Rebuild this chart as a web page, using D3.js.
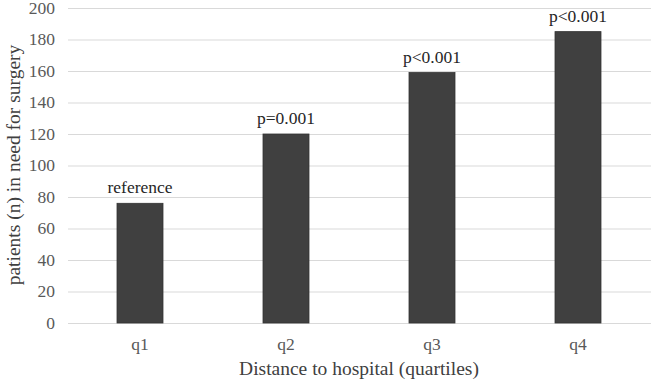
<!DOCTYPE html>
<html><head><meta charset="utf-8">
<script src="https://cdn.jsdelivr.net/npm/d3@7"></script>
<style>body{margin:0;background:#fff} svg text{font-family:"Times New Roman","Liberation Serif",Tinos,"DejaVu Serif",serif;}</style>
</head><body>
<script>
const categories = ["q1", "q2", "q3", "q4"];
const values = [76, 120, 159, 185];
const annotations = ["reference", "p=0.001", "p<0.001", "p<0.001"];
const yTicks = [0, 20, 40, 60, 80, 100, 120, 140, 160, 180, 200];
const xTitle = "Distance to hospital (quartiles)";
const yTitle = "patients (n) in need for surgery";

const W = 654, H = 383;
const svg = d3.select("body").append("svg").attr("width", W).attr("height", H);

const x = d3.scaleBand().domain(categories).range([67, 651]).paddingInner(0.685).paddingOuter(0.3425);
const y = d3.scaleLinear().domain([0, 200]).range([323, 8]);

// gridlines
svg.append("g").selectAll("line").data(yTicks).join("line")
  .attr("x1", 68).attr("x2", 651)
  .attr("y1", d => y(d) + 0.5).attr("y2", d => y(d) + 0.5)
  .attr("stroke", "#d9d9d9").attr("stroke-width", 1);

// y tick labels
svg.append("g").selectAll("text").data(yTicks).join("text")
  .attr("x", 55).attr("y", d => y(d)).attr("dy", "0.33em")
  .attr("text-anchor", "end").attr("font-size", 17.5)
  .attr("fill", "#595959").text(d => d);

// bars
svg.append("g").selectAll("rect").data(values).join("rect")
  .attr("x", (d, i) => x(categories[i]))
  .attr("width", x.bandwidth())
  .attr("y", d => y(d))
  .attr("height", d => y(0) - y(d))
  .attr("fill", "#404040").attr("stroke", "#333").attr("stroke-width", 0.8);

// annotations
svg.append("g").selectAll("text").data(values).join("text")
  .attr("x", (d, i) => x(categories[i]) + x.bandwidth() / 2)
  .attr("y", d => y(d) - 10)
  .attr("text-anchor", "middle").attr("font-size", 17.5)
  .attr("fill", "#262626").text((d, i) => annotations[i]);

// x tick labels
svg.append("g").selectAll("text").data(categories).join("text")
  .attr("x", d => x(d) + x.bandwidth() / 2).attr("y", 350)
  .attr("text-anchor", "middle").attr("font-size", 17.5)
  .attr("fill", "#595959").text(d => d);

// axis titles
svg.append("text").attr("x", 359).attr("y", 375).attr("text-anchor", "middle")
  .attr("font-size", 19.5).attr("fill", "#404040").text(xTitle);
svg.append("text").attr("transform", "translate(20,165) rotate(-90)").attr("text-anchor", "middle")
  .attr("font-size", 19.5).attr("fill", "#404040").text(yTitle);
</script>
</body></html>
